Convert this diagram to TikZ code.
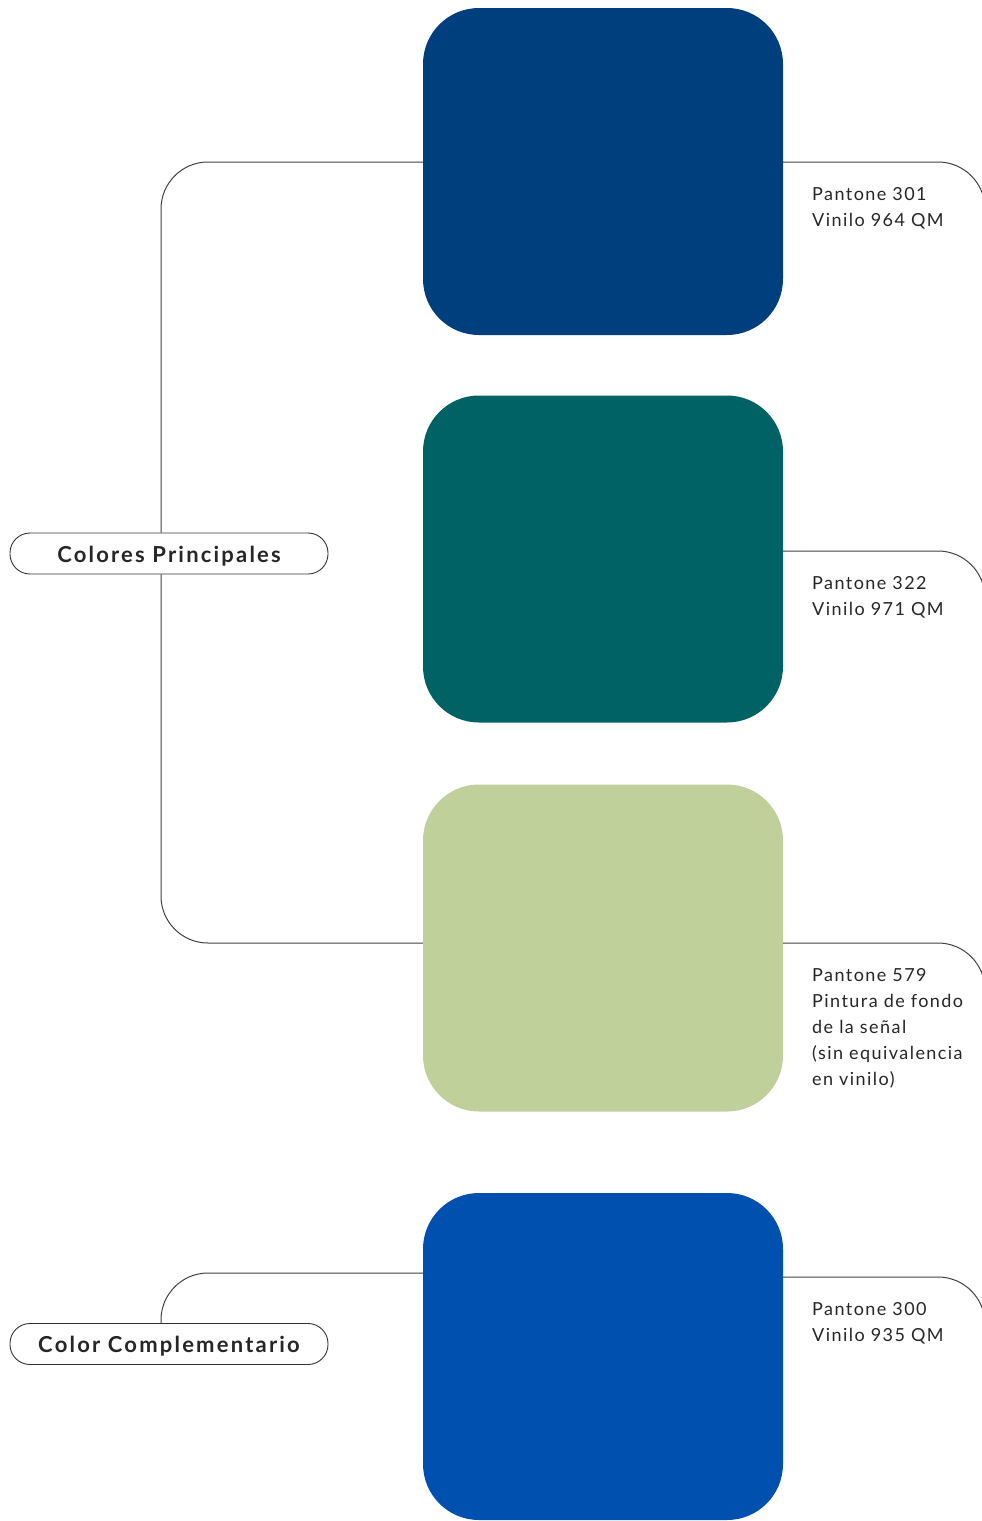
\documentclass[tikz,border=0pt]{standalone}
\usepackage{fontspec}
\setmainfont{Lato}
\definecolor{azulTres}{RGB}{0,63,126}
\definecolor{verdeTres}{RGB}{0,98,100}
\definecolor{verdeCinco}{RGB}{191,208,155}
\definecolor{azulCero}{RGB}{0,80,176}
\tikzset{
	muestra/.style={rounded corners=56pt,minimum width=360pt,minimum height=327pt,inner sep=0pt},
	etiqueta/.style={draw=black!80,line width=0.9pt,rounded corners=20pt,fill=white,minimum width=318pt,minimum height=41pt,inner sep=0pt,text height=17pt,text depth=0pt,font=\bfseries\fontsize{22}{24}\selectfont\addfontfeature{LetterSpace=10},text=black!85},
	nota/.style={anchor=north west,align=left,inner sep=0pt,font=\fontsize{18}{26}\selectfont\addfontfeature{LetterSpace=8},text=black!85},
	enlace/.style={draw=black!75,line width=1pt,rounded corners=47pt}
}
\begin{document}
\begin{tikzpicture}[x=1pt,y=1pt]
	\useasboundingbox (0,0) rectangle (982,-1521);
\node[muestra,fill=azulTres] (p301) at (603,-171.5) {};
\node[muestra,fill=verdeTres] (p322) at (603,-559) {};
\node[muestra,fill=verdeCinco] (p579) at (603,-948) {};
\node[muestra,fill=azulCero] (p300) at (603,-1356.5) {};
	\node[etiqueta] (principales) at (169,-553.5) {Colores Principales};
	\node[etiqueta] (complementario) at (169,-1344) {Color Complementario};
	\node[nota] (t301) at (812,-187) {Pantone 301\\Vinilo 964 QM};
	\node[nota] (t322) at (812,-576) {Pantone 322\\Vinilo 971 QM};
	\node[nota] (t579) at (812,-968) {Pantone 579\\Pintura de fondo\\de la señal\\(sin equivalencia\\en vinilo)};
	\node[nota] (t300) at (812,-1302) {Pantone 300\\Vinilo 935 QM};
	\coordinate (f301) at (985,-260);
	\coordinate (f322) at (985,-650);
	\coordinate (f579) at (985,-1040);
	\coordinate (f300) at (985,-1375);
	\draw[enlace] ([xshift=-8pt]principales.north) |- ([yshift=9.5pt]p301.west);
	\draw[enlace] ([xshift=-8pt]principales.south) |- ([yshift=5pt]p579.west);
	\draw[enlace] ([xshift=-8pt]complementario.north) |- ([yshift=83.5pt]p300.west);
	\draw[enlace] ([yshift=9.5pt]p301.east) -| (f301);
	\draw[enlace] ([yshift=8pt]p322.east) -| (f322);
	\draw[enlace] ([yshift=5pt]p579.east) -| (f579);
	\draw[enlace] ([yshift=79.5pt]p300.east) -| (f300);
	\end{tikzpicture}
\end{document}
